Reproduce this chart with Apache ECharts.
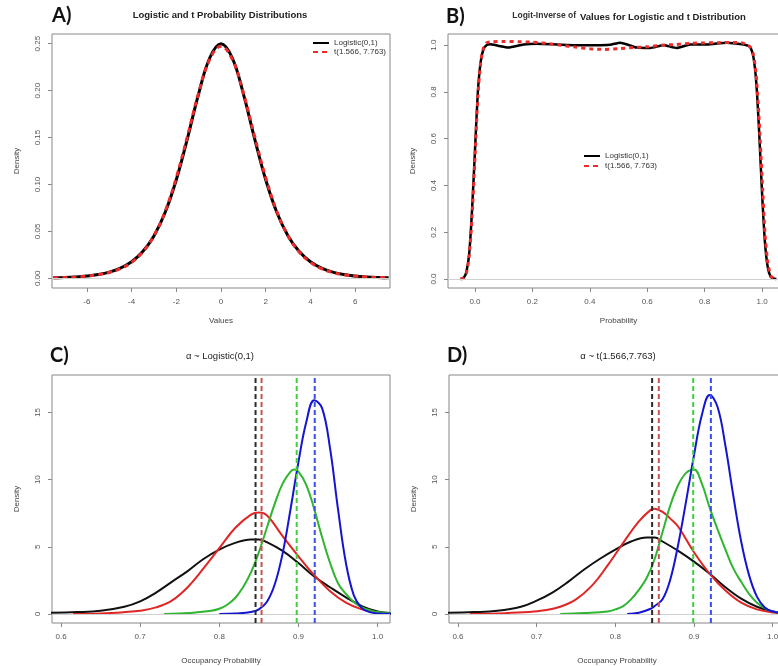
<!DOCTYPE html>
<html><head><meta charset="utf-8">
<script src="https://cdn.jsdelivr.net/npm/echarts@6/dist/echarts.min.js"></script>
<style>html,body{margin:0;padding:0;background:#fff;overflow:hidden}#c{width:792px;height:666px}</style>
</head><body><div id="c"></div>
<script>
// ---------- Panel A: densities ----------
const aX = [-7.5,-7,-6.5,-6,-5.5,-5,-4.5,-4,-3.5,-3,-2.5,-2,-1.5,-1,-0.5,0,0.5,1,1.5,2,2.5,3,3.5,4,4.5,5,5.5,6,6.5,7,7.5];
const aLogistic = [0.00055,0.00091,0.0015,0.00247,0.00405,0.00665,0.0109,0.0177,0.0285,0.0452,0.0701,0.1050,0.1491,0.1966,0.2350,0.25,0.2350,0.1966,0.1491,0.1050,0.0701,0.0452,0.0285,0.0177,0.0109,0.00665,0.00405,0.00247,0.0015,0.00091,0.00055];
const aT = [0.0006,0.00093,0.00147,0.00236,0.00383,0.00627,0.0103,0.0171,0.0280,0.0453,0.0712,0.1072,0.1515,0.1975,0.2335,0.2472,0.2335,0.1975,0.1515,0.1072,0.0712,0.0453,0.0280,0.0171,0.0103,0.00627,0.00383,0.00236,0.00147,0.00093,0.0006];
const aXTicks = [-6,-4,-2,0,2,4,6];
const aYTicks = [0,0.05,0.10,0.15,0.20,0.25];

// ---------- Panel B: logit-inverse densities ----------
const bXLogistic = [-0.05,-0.04,-0.03,-0.02,-0.01,0,0.01,0.02,0.03,0.04,0.052,0.08,0.116,0.169,0.215,0.285,0.35,0.42,0.47,0.506,0.563,0.61,0.657,0.703,0.75,0.807,0.877,0.936,0.95,0.96,0.97,0.98,0.99,1.0,1.01,1.02,1.03,1.04,1.05];
const bLogistic = [0,0.004,0.03,0.11,0.3,0.55,0.8,0.93,0.985,1.0,1.004,0.998,0.99,1.003,1.006,1.003,1.0,1.0,1.002,1.011,0.99,0.988,1.0,0.988,1.003,1.003,1.011,1.003,0.998,0.99,0.95,0.84,0.63,0.37,0.16,0.05,0.01,0.002,0];
const bXT = [-0.05,-0.04,-0.03,-0.02,-0.01,0,0.01,0.02,0.03,0.04,0.06,0.1,0.15,0.2,0.25,0.3,0.35,0.4,0.45,0.5,0.55,0.6,0.65,0.7,0.75,0.8,0.85,0.9,0.93,0.95,0.96,0.97,0.98,0.99,1.0,1.01,1.02,1.03,1.04,1.05];
const bT = [0,0.004,0.025,0.1,0.27,0.52,0.78,0.93,0.99,1.01,1.015,1.016,1.015,1.013,1.008,1.0,0.992,0.985,0.982,0.985,0.99,0.993,1.0,1.003,1.008,1.01,1.011,1.012,1.01,1.0,0.99,0.96,0.87,0.68,0.44,0.2,0.07,0.015,0.003,0];
const bXTicks = [0,0.2,0.4,0.6,0.8,1.0];
const bYTicks = [0,0.2,0.4,0.6,0.8,1.0];

// ---------- Panel C: alpha ~ Logistic(0,1) ----------
const cBlackX = [0.587,0.62,0.65,0.68,0.70,0.72,0.74,0.76,0.78,0.80,0.82,0.84,0.85,0.86,0.88,0.90,0.92,0.94,0.96,0.98,1.0,1.017];
const cBlack  = [0.1,0.15,0.25,0.55,0.95,1.6,2.4,3.2,4.1,4.8,5.3,5.55,5.55,5.35,4.7,3.8,2.8,2.0,1.25,0.6,0.2,0.08];
const cRedX = [0.615,0.65,0.68,0.70,0.72,0.74,0.76,0.78,0.80,0.82,0.84,0.85,0.86,0.88,0.90,0.92,0.94,0.96,0.98,1.0,1.017];
const cRed  = [0.0,0.05,0.15,0.25,0.5,1.0,2.0,3.4,4.9,6.4,7.4,7.55,7.35,5.8,4.3,2.9,1.7,0.85,0.35,0.12,0.06];
const cGreenX = [0.73,0.75,0.77,0.79,0.80,0.81,0.82,0.83,0.84,0.85,0.86,0.87,0.88,0.89,0.895,0.90,0.91,0.92,0.93,0.94,0.95,0.96,0.97,0.98,0.99,1.0,1.017];
const cGreen  = [0.0,0.05,0.12,0.25,0.4,0.7,1.2,2.0,3.1,4.6,6.4,8.2,9.7,10.6,10.75,10.6,9.6,7.8,5.7,3.8,2.3,1.5,0.9,0.5,0.3,0.15,0.06];
const cBlueX = [0.80,0.82,0.84,0.85,0.86,0.87,0.88,0.89,0.90,0.91,0.92,0.93,0.94,0.95,0.96,0.97,0.98,0.99,1.0,1.017];
const cBlue  = [0.0,0.05,0.15,0.35,0.9,2.2,4.5,7.8,11.3,14.3,15.9,15.3,12.3,7.8,3.8,1.4,0.45,0.15,0.05,0.02];
const cMeans = [0.8458,0.8534,0.8978,0.9206]; // black, red, green, blue

// ---------- Panel D: alpha ~ t(1.566,7.763) ----------
const dBlackX = [0.587,0.62,0.65,0.68,0.70,0.72,0.74,0.76,0.78,0.80,0.82,0.84,0.85,0.86,0.88,0.90,0.92,0.94,0.96,0.98,1.0,1.017];
const dBlack  = [0.1,0.15,0.25,0.55,1.0,1.6,2.4,3.3,4.1,4.8,5.4,5.7,5.7,5.4,4.7,3.9,3.0,2.0,1.15,0.55,0.2,0.08];
const dRedX = [0.615,0.65,0.69,0.71,0.73,0.75,0.77,0.79,0.81,0.83,0.845,0.85,0.86,0.87,0.88,0.90,0.92,0.94,0.96,0.98,1.0,1.017];
const dRed  = [0.0,0.05,0.15,0.28,0.55,1.1,2.1,3.6,5.3,6.9,7.75,7.84,7.6,7.1,6.5,4.6,3.0,1.75,0.85,0.35,0.12,0.06];
const dGreenX = [0.73,0.76,0.79,0.80,0.81,0.82,0.83,0.84,0.85,0.86,0.87,0.88,0.89,0.90,0.91,0.92,0.93,0.94,0.95,0.96,0.97,0.98,0.99,1.0,1.017];
const dGreen  = [0.0,0.08,0.2,0.35,0.6,1.1,1.8,2.7,4.1,6.1,8.1,9.6,10.5,10.75,9.7,7.9,6.3,4.8,3.4,2.4,1.5,0.85,0.45,0.2,0.08];
const dBlueX = [0.815,0.83,0.845,0.85,0.86,0.87,0.88,0.89,0.90,0.91,0.92,0.93,0.94,0.95,0.96,0.97,0.98,0.99,1.0,1.017];
const dBlue  = [0.0,0.1,0.4,0.6,1.1,2.6,5.2,8.4,11.8,14.8,16.3,15.4,12.5,8.8,5.4,2.9,1.3,0.5,0.2,0.06];
const dMeans = [0.8468,0.8553,0.899,0.9215];
const cdXTicks = [0.6,0.7,0.8,0.9,1.0];
const cdYTicks = [0,5,10,15];
const cdYRange = [-0.66, 17.78];

const seriesNames = ['Logistic(0,1)', 't(1.566, 7.763)'];

function pairs(xs, ys){ return xs.map((x,i)=>[x, ys[i]]); }

const FONT = "'Liberation Sans', Arial, sans-serif";
const AXC = '#888';
const LBL = '#555';

function xAxisDef(idx, min, max, ticks, dec, name, gap){
  return {
    type:'value', gridIndex: idx, min, max, name, nameLocation:'middle', nameGap: gap,
    nameTextStyle:{fontFamily:FONT, fontSize:8, color:'#444'},
    splitLine:{show:false}, axisLine:{show:false, onZero:false},
    axisTick:{show:true, inside:false, length:4, lineStyle:{color:AXC}, customValues: ticks},
    axisLabel:{fontFamily:FONT, fontSize:8, color:LBL, margin:10, customValues: ticks,
      formatter: v => Number(v).toFixed(dec)}
  };
}
function yAxisDef(idx, min, max, ticks, dec){
  return {
    type:'value', gridIndex: idx, min, max, name:'Density', nameLocation:'middle', nameGap:31,
    nameTextStyle:{fontFamily:FONT, fontSize:8, color:'#444'},
    splitLine:{show:false}, axisLine:{show:false, onZero:false},
    axisTick:{show:true, inside:false, length:4, lineStyle:{color:AXC}, customValues: ticks},
    axisLabel:{fontFamily:FONT, fontSize:8, color:LBL, margin:10, rotate:90, customValues: ticks,
      formatter: v => Number(v).toFixed(dec)}
  };
}
function zeroLine(){
  return {silent:true, symbol:'none', label:{show:false}, animation:false,
    lineStyle:{color:'#d0d0d0', width:1, type:'solid'}, data:[{yAxis:0}]};
}
const meanColors = ['#2a2a2a','#c65454','#3fcf3f','#3a4ff0'];
function curve(name, xi, yi, data, color, width, type, extra){
  return Object.assign({
    type:'line', name, xAxisIndex:xi, yAxisIndex:yi, data, showSymbol:false, symbol:'none',
    smooth:0.4, lineStyle:{color, width, type}, itemStyle:{color},
    silent:true, z:3
  }, extra||{});
}
function meanSeries(name, idx, v, color){
  return {type:'line', name, xAxisIndex:idx, yAxisIndex:idx, showSymbol:false, symbol:'none',
    data:[[v, cdYRange[0]],[v, cdYRange[1]]], silent:true, z:5,
    lineStyle:{color, width:2, type:[5,3]}};
}

const cColors = ['#111111','#e02525','#2fb52f','#1414d2'];

const series = [
  curve(seriesNames[0],0,0,pairs(aX,aLogistic),'#000',3,'solid',{markLine:zeroLine()}),
  curve(seriesNames[1],0,0,pairs(aX,aT),'#ee2a2a',3,[5,4],{z:4}),
  curve(seriesNames[0],1,1,pairs(bXLogistic,bLogistic),'#000',2.5,'solid',{smooth:0.2, markLine:zeroLine()}),
  curve(seriesNames[1],1,1,pairs(bXT,bT),'#ee2a2a',3,[4,4],{smooth:0.2, z:4}),
];
const cSets = [[cBlackX,cBlack],[cRedX,cRed],[cGreenX,cGreen],[cBlueX,cBlue]];
const dSets = [[dBlackX,dBlack],[dRedX,dRed],[dGreenX,dGreen],[dBlueX,dBlue]];
['black','red','green','blue'].forEach((k,i)=>{
  series.push(curve('C-'+k,2,2,pairs(cSets[i][0],cSets[i][1]),cColors[i],2,'solid', i===0?{markLine:zeroLine()}:{}));
  series.push(curve('D-'+k,3,3,pairs(dSets[i][0],dSets[i][1]),cColors[i],2,'solid', i===0?{markLine:zeroLine()}:{}));
  series.push(meanSeries('C-mean-'+k, 2, cMeans[i], meanColors[i]));
  series.push(meanSeries('D-mean-'+k, 3, dMeans[i], meanColors[i]));
});

const legendCommon = {orient:'vertical', itemWidth:16, itemHeight:8, padding:0,
  itemStyle:{color:'rgba(0,0,0,0)', borderWidth:0, opacity:0},
  textStyle:{fontFamily:FONT, fontSize:8, color:'#333'}, selectedMode:false, data: seriesNames};

function txt(x, y, text, size, weight, align, color){
  return {type:'text', x, y, silent:true, style:{text, fontFamily: size>12 ? "Lato, 'Open Sans', sans-serif" : FONT,
    fontSize:size, fontWeight:weight, fill:color||'#222', align:align||'center', verticalAlign:'middle'}};
}

const chart = echarts.init(document.getElementById('c'), null, {renderer:'canvas'});
chart.setOption({
  animation:false,
  backgroundColor:'#fff',
  grid:[
    {left:52, top:34, width:338, height:254, show:true, borderColor:AXC, borderWidth:1},
    {left:448, top:34, width:341, height:254, show:true, borderColor:AXC, borderWidth:1},
    {left:52, top:375, width:338, height:253, show:true, borderColor:AXC, borderWidth:1},
    {left:449, top:375, width:336, height:253, show:true, borderColor:AXC, borderWidth:1}
  ],
  xAxis:[
    xAxisDef(0,-7.56,7.56,aXTicks,0,'Values',29),
    xAxisDef(1,-0.094,1.094,bXTicks,1,'Probability',29),
    xAxisDef(2,0.5886,1.0157,cdXTicks,1,'Occupancy Probability',34),
    xAxisDef(3,0.5886,1.0157,cdXTicks,1,'Occupancy Probability',34)
  ],
  yAxis:[
    yAxisDef(0,-0.0103,0.2603,aYTicks,2),
    yAxisDef(1,-0.0385,1.048,bYTicks,1),
    yAxisDef(2,cdYRange[0],cdYRange[1],cdYTicks,0),
    yAxisDef(3,cdYRange[0],cdYRange[1],cdYTicks,0)
  ],
  legend:[
    Object.assign({left:312, top:39, itemGap:1}, legendCommon),
    Object.assign({left:583, top:152, itemGap:2}, legendCommon)
  ],
  graphic:[
    txt(52, 16, 'A)', 20, 'bold', 'left', '#111'),
    txt(220, 15, 'Logistic and t Probability Distributions', 9.5, 'bold'),
    txt(446, 17, 'B)', 20, 'bold', 'left', '#111'),
    txt(576, 15.5, 'Logit-Inverse of', 8.5, 'bold', 'right', '#333'),
    txt(580, 17.5, 'Values for Logistic and t Distribution', 9.5, 'bold', 'left'),
    txt(50, 356, 'C)', 20, 'bold', 'left', '#111'),
    txt(220, 356, 'α ~ Logistic(0,1)', 9.5, 'normal'),
    txt(447, 356, 'D)', 20, 'bold', 'left', '#111'),
    txt(618, 356, 'α ~ t(1.566,7.763)', 9.5, 'normal')
  ],
  series
});
</script></body></html>
